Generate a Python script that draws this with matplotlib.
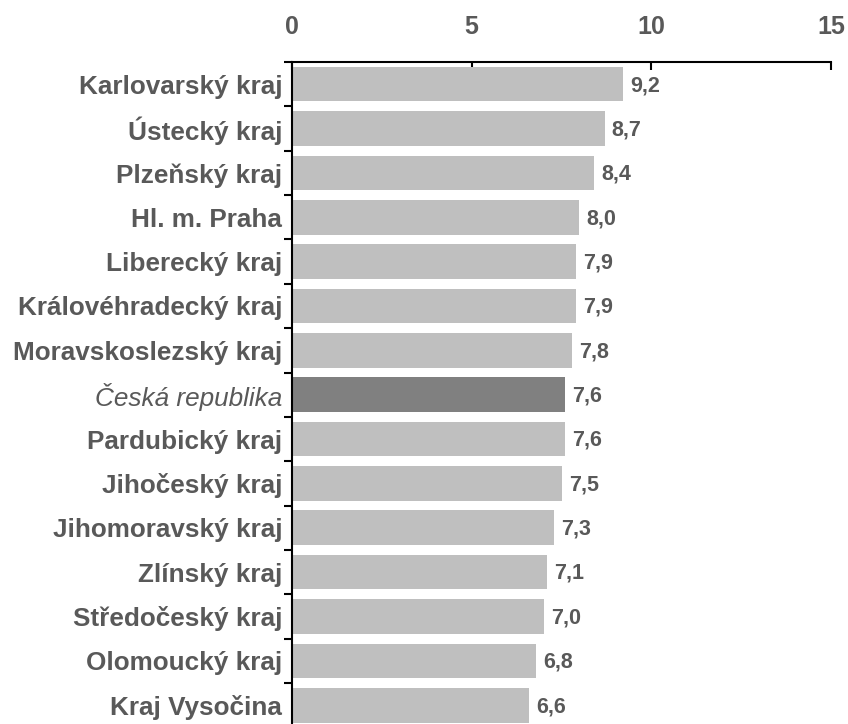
import matplotlib
matplotlib.use('Agg')
import matplotlib.pyplot as plt

regions = ["Karlovarský kraj", "Ústecký kraj", "Plzeňský kraj", "Hl. m. Praha",
           "Liberecký kraj", "Královéhradecký kraj", "Moravskoslezský kraj",
           "Česká republika", "Pardubický kraj", "Jihočeský kraj",
           "Jihomoravský kraj", "Zlínský kraj", "Středočeský kraj",
           "Olomoucký kraj", "Kraj Vysočina"]
values = [9.2, 8.7, 8.4, 8.0, 7.9, 7.9, 7.8, 7.6, 7.6, 7.5, 7.3, 7.1, 7.0, 6.8, 6.6]
highlight = "Česká republika"

plt.rcParams['font.family'] = ['Liberation Sans', 'DejaVu Sans']
TXT = "#595959"

fig = plt.figure(figsize=(8.48, 7.24), dpi=100)
ax = fig.add_axes([292/848, 1 - 727.4/724, 539/848, 665.4/724])

y = list(range(len(regions)))
colors = ["#808080" if r == highlight else "#BFBFBF" for r in regions]
ax.barh(y, values, height=0.78, color=colors, zorder=2)

for yi, v in zip(y, values):
    ax.text(v + 0.2, yi + 0.03, f"{v:.1f}".replace(".", ","), va="center", ha="left",
            fontsize=15.5, fontweight="bold", color=TXT)

ax.set_xlim(0, 15)
ax.set_ylim(len(regions) - 0.5, -0.5)
ax.xaxis.tick_top()
ax.set_xticks([0, 5, 10, 15])
ax.tick_params(axis="x", direction="in", length=6, width=1.5, pad=16.5,
               labelsize=18, labelcolor=TXT)
for lab in ax.get_xticklabels():
    lab.set_fontweight("bold")

# category labels with ticks between categories
ax.set_yticks(y)
ax.set_yticklabels(regions)
ax.tick_params(axis="y", length=0, pad=7, labelsize=18.8, labelcolor=TXT)
for lab in ax.get_yticklabels():
    if lab.get_text() == highlight:
        lab.set_fontstyle("italic")
        lab.set_fontweight("normal")
    else:
        lab.set_fontweight("bold")
ax.set_yticks([i + 0.5 for i in range(-1, len(regions))], minor=True)
ax.tick_params(axis="y", which="minor", direction="out", length=6, width=1.5)

for s in ["right", "bottom"]:
    ax.spines[s].set_visible(False)
ax.spines["top"].set_linewidth(1.5)
ax.spines["left"].set_linewidth(1.5)

fig.savefig("out.png", dpi=100)
